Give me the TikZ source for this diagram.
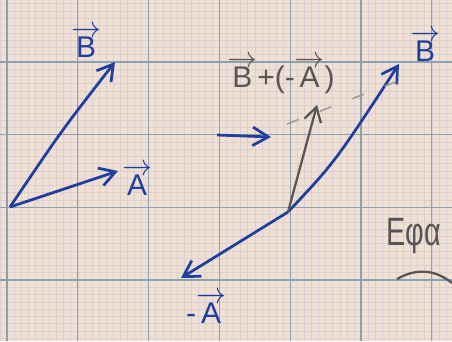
\documentclass[tikz,border=0pt]{standalone}
\usepackage{fontspec}
\setmainfont{Liberation Sans}
\usepackage{amsmath}
\usetikzlibrary{arrows.meta}
\definecolor{paper}{RGB}{240,224,212}
\definecolor{gridminor}{RGB}{218,208,210}
\definecolor{gridmajor}{RGB}{140,160,176}
\definecolor{inkblue}{RGB}{32,62,158}
\definecolor{pencil}{RGB}{88,84,84}
\newcommand{\vlabel}[1]{\ensuremath{\overrightarrow{\text{#1}}}}

\begin{document}
\begin{tikzpicture}[
    x=0.014085cm, y=-0.014085cm,
    inkarrow/.style={-{Straight Barb[length=2.2mm,width=2.6mm]}, inkblue, line width=1.1pt},
    pencilarrow/.style={-{Straight Barb[length=2mm,width=2.4mm]}, pencil, line width=0.9pt},
    inklabel/.style={inkblue, font=\large},
    pencillabel/.style={pencil, font=\large}
]
\useasboundingbox (0,0) rectangle (452,341);
\clip (0,0) rectangle (452,341);

% Grid paper
\fill[paper] (0,0) rectangle (452,341);
\foreach \i in {0,...,65} {
    \draw[gridminor, line width=0.3pt] ({0.05+7.08*\i},0) -- ({0.05+7.08*\i},341);
}
\foreach \j in {0,...,48} {
    \draw[gridminor, line width=0.3pt] (0,{-10.7+7.27*\j}) -- (452,{-10.7+7.27*\j});
}
\foreach \i in {0,...,6} {
    \draw[gridmajor, line width=0.5pt] ({7+70.8*\i},0) -- ({7+70.8*\i},341);
}
\foreach \j in {0,...,4} {
    \draw[gridmajor, line width=0.5pt] (0,{-10.7+72.7*\j}) -- (452,{-10.7+72.7*\j});
}

% Left: vectors A and B
\coordinate (oleft) at (10,207);
\coordinate (atip) at (118,171);
\coordinate (btip) at (115,62);
\draw[inkarrow] (oleft) -- (atip);
\draw[inkarrow] (oleft) .. controls (62,130) .. (btip);
\node[inklabel] (blabel) at (86,42) {\vlabel{B}};
\node[inklabel] (alabel) at (137,180) {\vlabel{A}};

% Right: B + (-A)
\coordinate (oright) at (288,212);
\coordinate (minustip) at (181,278);
\coordinate (brtip) at (399,64);
\coordinate (difftip) at (317,105);
\draw[inkarrow] (oright) -- (minustip);
\draw[inkarrow] (oright) .. controls (335,162) .. (brtip);
\draw[pencilarrow] (oright) -- (difftip);
\draw[pencil!60, dashed, line width=0.6pt, dash pattern=on 5pt off 9pt] (287,124) -- (416,74);
\node[pencillabel] (difflabel) at (281,75) {\vlabel{B}+(-\vlabel{A})};
\node[inklabel] (brlabel) at (425,46) {\vlabel{B}};
\node[inklabel] (minuslabel) at (206,308) {-\vlabel{A}};

% direction mark
\coordinate (marktail) at (217,135);
\coordinate (markhead) at (271,137);
\draw[inkarrow] (marktail) -- (markhead);

% Greek heading
\node[pencil, font=\Large, anchor=base west, inner sep=0pt] (heading) at (386,245) {\scalebox{0.8}[1.1]{Εφα}};
\draw[pencil, line width=0.9pt] (397,279) .. controls (420,266) and (438,272) .. (452,283);
\end{tikzpicture}
\end{document}
